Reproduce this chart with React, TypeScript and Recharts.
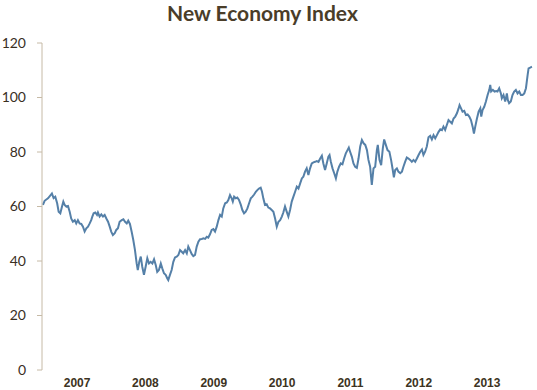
import React from 'react';
import { LineChart, Line, XAxis, YAxis } from 'recharts';

// days since 2007-01-01
const days = [
  0, 9, 27, 41, 48, 57, 66, 76, 84, 93, 102, 109, 116, 125, 134, 143, 151, 160, 170, 178,
  187, 196, 205, 214, 223, 232, 241, 250, 258, 264, 271, 280, 289, 294, 303, 312, 321, 330, 339, 348,
  357, 365, 374, 384, 392, 401, 410, 421, 430, 439, 448, 456, 465, 474, 483, 492, 501, 507, 515, 523,
  531, 540, 549, 558, 567, 576, 585, 594, 603, 611, 620, 630, 638, 647, 656, 665, 670, 679, 688, 697,
  706, 715, 724, 733, 742, 750, 760, 769, 777, 786, 795, 804, 813, 822, 831, 840, 849, 858, 867, 876,
  884, 893, 902, 911, 920, 929, 938, 947, 956, 964, 974, 983, 991, 1000, 1009, 1015, 1022, 1031, 1039, 1048,
  1058, 1066, 1075, 1084, 1093, 1102, 1111, 1120, 1129, 1138, 1146, 1155, 1164, 1171, 1178, 1187, 1196, 1205, 1214, 1223,
  1232, 1241, 1250, 1259, 1268, 1277, 1285, 1294, 1303, 1312, 1321, 1330, 1339, 1348, 1357, 1366, 1375, 1384, 1392, 1401,
  1410, 1419, 1428, 1437, 1446, 1455, 1464, 1473, 1482, 1491, 1499, 1508, 1517, 1526, 1532, 1539, 1548, 1557, 1566, 1574,
  1583, 1592, 1601, 1610, 1619, 1628, 1635, 1642, 1651, 1660, 1669, 1678, 1687, 1696, 1705, 1714, 1723, 1732, 1740, 1749,
  1758, 1767, 1776, 1785, 1790, 1799, 1808, 1817, 1824, 1833, 1842, 1852, 1861, 1870, 1876, 1883, 1892, 1900, 1910, 1919,
  1927, 1936, 1945, 1954, 1963, 1972, 1981, 1990, 1999, 2008, 2017, 2026, 2034, 2043, 2052, 2061, 2070, 2079, 2088, 2097,
  2106, 2115, 2124, 2133, 2141, 2150, 2159, 2168, 2177, 2186, 2195, 2204, 2213, 2222, 2227, 2235, 2243, 2252, 2261, 2270,
  2279, 2288, 2297, 2304, 2311, 2320, 2329, 2338, 2343, 2350, 2359, 2368, 2377, 2386, 2391, 2396, 2405, 2414, 2423, 2430,
  2439, 2448, 2453, 2462, 2471, 2480, 2485, 2492, 2501, 2510, 2519, 2528, 2537, 2546, 2555, 2564, 2573, 2582, 2591, 2596,
  2605, 2614,
];

const indexValues = [
  60.6, 62.1, 63.0, 64.2, 64.8, 63.1, 63.6, 61.2, 58.1, 57.5, 60.0, 61.8, 60.6, 60.0, 60.2, 58.1, 55.6, 54.4, 55.0, 53.8,
  55.0, 53.8, 53.6, 52.6, 50.8, 52.0, 52.6, 53.8, 55.0, 56.3, 57.5, 57.8, 56.9, 57.8, 56.3, 57.1, 56.3, 56.9, 55.6, 54.4,
  52.6, 50.8, 49.5, 50.2, 51.4, 52.0, 54.4, 55.0, 55.3, 54.4, 53.8, 54.8, 53.6, 50.8, 47.7, 44.0, 39.1, 36.7, 39.7, 41.6,
  37.9, 34.9, 37.9, 41.0, 39.1, 39.7, 39.1, 40.6, 38.5, 36.0, 36.7, 39.1, 37.3, 35.5, 34.9, 33.6, 33.0, 34.9, 36.7, 39.7,
  41.3, 41.6, 42.2, 44.0, 43.4, 42.8, 44.0, 42.8, 45.3, 44.0, 42.6, 41.8, 42.2, 45.3, 47.1, 48.0, 48.1, 48.3, 48.1, 48.9,
  48.6, 49.8, 51.4, 51.7, 50.8, 52.6, 55.0, 56.9, 56.3, 59.3, 61.2, 61.5, 62.4, 64.2, 63.0, 61.8, 63.6, 63.0, 63.3, 62.4,
  60.6, 58.7, 57.5, 58.1, 59.3, 61.2, 63.0, 63.6, 64.4, 65.4, 66.0, 66.6, 66.9, 65.4, 63.0, 60.6, 60.8, 59.6, 59.3, 58.7,
  58.1, 55.6, 52.6, 54.4, 55.0, 56.3, 57.8, 60.0, 58.1, 56.3, 58.7, 61.8, 63.6, 65.4, 67.3, 66.6, 68.5, 70.3, 70.9, 72.8,
  74.0, 71.6, 74.0, 75.8, 76.2, 76.4, 76.7, 76.4, 77.6, 78.6, 75.8, 73.4, 75.8, 78.3, 78.9, 76.4, 74.0, 72.2, 70.3, 72.8,
  74.6, 75.8, 75.5, 77.6, 79.5, 80.7, 81.6, 80.1, 78.3, 75.8, 74.6, 74.2, 77.6, 82.0, 84.4, 83.2, 82.6, 80.7, 77.1, 74.6,
  67.9, 74.0, 74.6, 80.7, 82.6, 77.1, 75.2, 81.4, 84.6, 82.6, 80.7, 80.1, 77.1, 73.4, 70.7, 73.4, 74.0, 72.8, 72.2, 72.8,
  74.6, 76.4, 78.0, 77.6, 77.1, 76.4, 77.1, 76.4, 77.6, 78.9, 80.1, 80.9, 78.9, 80.1, 82.0, 85.4, 85.9, 84.6, 86.2, 85.0,
  86.2, 87.4, 88.3, 88.0, 89.3, 88.1, 89.9, 91.7, 91.1, 90.5, 92.3, 93.0, 94.2, 96.0, 97.2, 96.0, 94.8, 95.1, 93.6, 93.8,
  93.0, 91.7, 89.3, 86.8, 89.3, 92.3, 94.8, 96.0, 93.0, 95.4, 96.6, 98.5, 100.9, 102.8, 104.6, 102.2, 102.8, 102.2, 102.4, 102.2,
  103.4, 101.5, 99.7, 100.9, 98.5, 101.5, 99.1, 97.9, 98.5, 100.9, 102.2, 102.8, 101.5, 102.2, 100.9, 100.9, 101.5, 103.4, 108.3, 110.7,
  111.0, 111.3,
];

const yearLabels = ['2007', '2008', '2009', '2010', '2011', '2012', '2013'];
const yTicks = [0, 20, 40, 60, 80, 100, 120];

const data = days.map((d, i) => ({ day: d, value: indexValues[i] }));
const DAYS_PER_YEAR = 365.25;
const xTicks = yearLabels.map((_, i) => i * DAYS_PER_YEAR + DAYS_PER_YEAR / 2);

export default function App() {
  return (
    <div style={{ position: 'absolute', left: 0, top: 0, width: 537, height: 390, background: '#fff' }}>
      <div
        style={{
          position: 'absolute',
          left: 0,
          top: 0,
          width: 525,
          textAlign: 'center',
          fontFamily: 'Lato, sans-serif',
          fontWeight: 700,
          fontSize: 21,
          lineHeight: '25px',
          color: '#4a3d29',
        }}
      >
        New Economy Index
      </div>
      <LineChart width={537} height={390} data={data} margin={{ top: 43, right: 3, bottom: 0, left: 0 }}>
        <XAxis
          dataKey="day"
          type="number"
          domain={[-5, 2625]}
          ticks={xTicks}
          tickFormatter={(v: number) => yearLabels[Math.floor(v / DAYS_PER_YEAR)]}
          axisLine={false}
          tickLine={false}
          height={20}
          interval={0}
          tick={{ fill: '#3d3322', fontSize: 12, fontWeight: 700, fontFamily: '"Liberation Sans", Arial, sans-serif' }}
        />
        <YAxis
          type="number"
          domain={[0, 120]}
          ticks={yTicks}
          width={42}
          interval={0}
          axisLine={{ stroke: '#c6baa6', strokeWidth: 1 }}
          tickLine={{ stroke: '#c6baa6', strokeWidth: 1 }}
          tickSize={5}
          tickMargin={11}
          tick={{ fill: '#3a2f1f', fontSize: 14, fontFamily: 'Lato, sans-serif' }}
        />
        <Line
          type="linear"
          dataKey="value"
          stroke="#5580a8"
          strokeWidth={2}
          dot={false}
          isAnimationActive={false}
        />
      </LineChart>
    </div>
  );
}
